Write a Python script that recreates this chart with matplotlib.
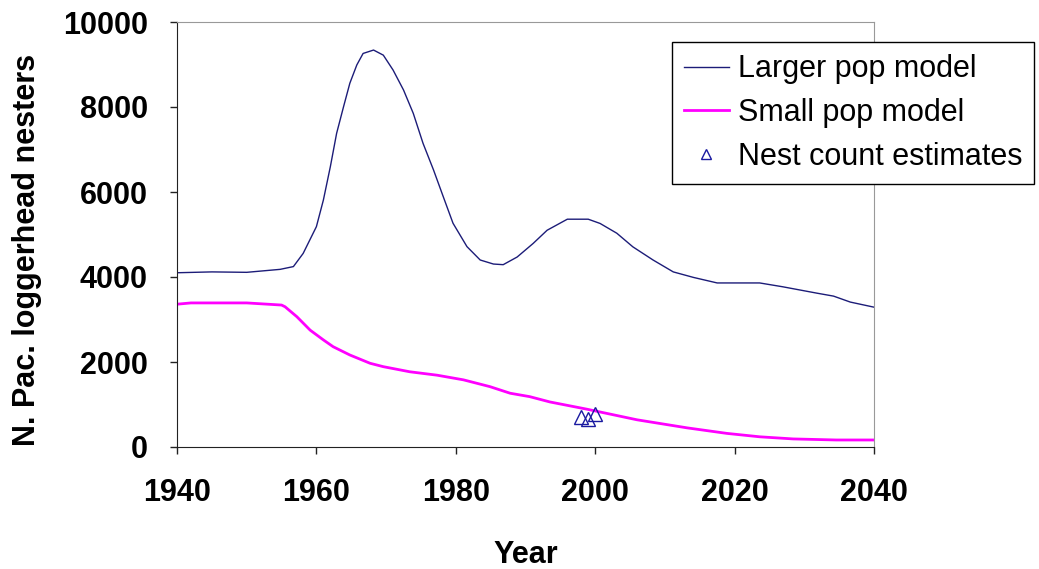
import numpy as np
import matplotlib
matplotlib.use('AGG')
import matplotlib.pyplot as plt

# Values
years_large = [1940, 1945, 1950, 1954.8, 1956.7, 1958.1, 1960, 1961, 1962,
               1962.9, 1963.9, 1964.8, 1965.8, 1966.7, 1968.2, 1969.6, 1971,
               1972.5, 1973.9, 1975.3, 1976.8, 1978.2, 1979.6, 1981.6, 1983.5,
               1985.4, 1986.8, 1988.8, 1991.1, 1993.1, 1996, 1999, 2000.7,
               2003.1, 2005.4, 2008.3, 2011.2, 2014.1, 2017.5, 2023.6, 2026.9,
               2031.8, 2034.2, 2036.6, 2040]
larger_pop = [4100, 4120, 4110, 4180, 4245, 4555, 5185, 5810, 6595,
              7380, 8010, 8560, 8990, 9260, 9340, 9220, 8870,
              8400, 7850, 7145, 6520, 5890, 5265, 4715, 4400,
              4305, 4290, 4470, 4790, 5100, 5360, 5360, 5260,
              5030, 4710, 4400, 4120, 3990, 3860, 3860, 3770,
              3620, 3550, 3410, 3290]

years_small = [1940, 1942, 1950, 1955, 1955.5, 1957.2, 1959.1, 1961, 1962.4,
               1964.8, 1967.7, 1969.6, 1973.4, 1977.3, 1981.1, 1984.9, 1987.8,
               1990.6, 1993.5, 1998.8, 2006, 2013.2, 2018.9, 2023.6, 2028.4,
               2034.6, 2040]
small_pop = [3360, 3390, 3390, 3340, 3300, 3065, 2750, 2520, 2360,
             2165, 1970, 1890, 1770, 1690, 1580, 1420, 1265,
             1185, 1060, 890, 640, 450, 320, 240, 190,
             165, 165]

nest_years = [1998, 1999, 2000]
nest_counts = [700, 660, 780]

x_ticks = [1940, 1960, 1980, 2000, 2020, 2040]
y_ticks = [0, 2000, 4000, 6000, 8000, 10000]

plt.rcParams['font.family'] = ['Liberation Sans', 'DejaVu Sans']

fig = plt.figure(figsize=(10.39, 5.69), dpi=100)
ax = fig.add_axes([177/1039, 1 - 447/569, 697/1039, 425/569])

ax.plot(years_large, larger_pop, color='#1c1c78', lw=1.0, label='Larger pop model')
ax.plot(years_small, small_pop, color='#ff00ff', lw=2.0, label='Small pop model')
ax.plot(nest_years, nest_counts, ls='none', marker='^', markersize=10,
        markerfacecolor='none', markeredgecolor='#1a1aa0', markeredgewidth=1.0,
        label='Nest count estimates')

ax.set_xlim(1940, 2040)
ax.set_ylim(0, 10000)
ax.set_xticks(x_ticks)
ax.set_yticks(y_ticks)

for side in ['left', 'bottom']:
    ax.spines[side].set_color('#222222')
for side in ['top', 'right']:
    ax.spines[side].set_color('#999999')

ax.tick_params(axis='both', direction='out', length=5, width=1, color='#222222',
               labelsize=22)
ax.tick_params(axis='y', pad=16)
ax.tick_params(axis='x', pad=17)
for lab in ax.get_xticklabels() + ax.get_yticklabels():
    lab.set_fontweight('bold')

ax.set_ylabel('N. Pac. loggerhead nesters', fontsize=22, fontweight='bold')
ax.set_xlabel('Year', fontsize=22, fontweight='bold')
ax.yaxis.set_label_coords(-0.193, 0.4635)
ax.xaxis.set_label_coords(0.5, -0.218)

leg = ax.legend(loc='upper left', bbox_to_anchor=(672/1039, 1 - 42/569),
                bbox_transform=fig.transFigure, fontsize=22, frameon=True,
                fancybox=False, edgecolor='black', framealpha=1,
                handlelength=1.45, handletextpad=0.3, labelspacing=0.45,
                borderpad=0.4, borderaxespad=0, markerscale=0.75)
leg.get_frame().set_linewidth(1.0)

fig.savefig('out.png', dpi=100)
